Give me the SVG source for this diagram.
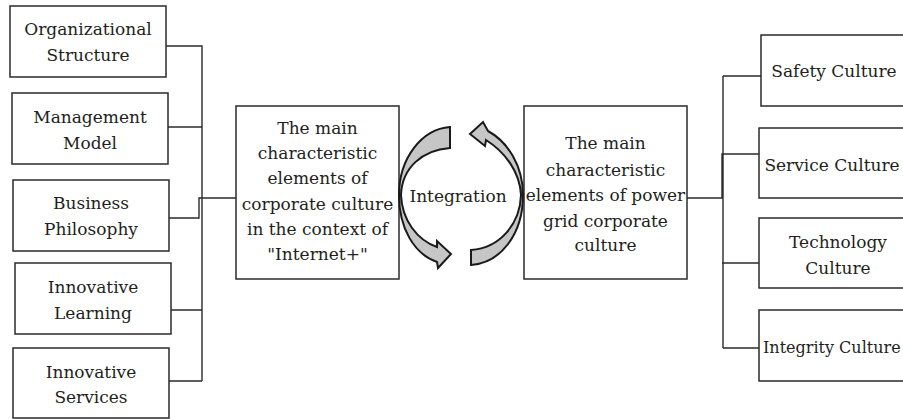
<svg xmlns="http://www.w3.org/2000/svg" width="903" height="419" viewBox="0 0 903 419">
<style>
.box{fill:#fff;stroke:#2b2b2b;stroke-width:1.5}
.t{font-family:'DejaVu Serif',serif;font-size:17px;fill:#231f20;text-anchor:middle}
.ln{fill:none;stroke:#2b2b2b;stroke-width:1.4}
.arr{fill:#c6c6c6;stroke:#1a1a1a;stroke-width:2;stroke-linejoin:miter}
</style>
<rect width="903" height="419" fill="#fff"/>
<g id="connectors">
<path class="ln" d="M166,46 H202 V381 M168,127 H202 M169,218 H199 V198 H236 M171,310 H202 M169,381 H202"/>
<path class="ln" d="M687,198 H722 V154 H761 M723,76 V348 M723,76 H761 M722,263 H761 M723,348 H761"/>
</g>
<g id="n1"><rect class="box" x="10" y="6" width="156" height="71"/><text class="t" x="88" y="35">Organizational</text><text class="t" x="88" y="61">Structure</text></g>
<g id="n2"><rect class="box" x="12" y="93" width="156" height="71"/><text class="t" x="90" y="123">Management</text><text class="t" x="90" y="149">Model</text></g>
<g id="n3"><rect class="box" x="13" y="180" width="156" height="71"/><text class="t" x="91" y="209">Business</text><text class="t" x="91" y="235">Philosophy</text></g>
<g id="n4"><rect class="box" x="15" y="263" width="156" height="71"/><text class="t" x="93" y="293">Innovative</text><text class="t" x="93" y="319">Learning</text></g>
<g id="n5"><rect class="box" x="13" y="348" width="156" height="70"/><text class="t" x="91" y="378">Innovative</text><text class="t" x="91" y="403">Services</text></g>
<g id="center-left"><rect class="box" x="236" y="106" width="163" height="173"/>
<text class="t" x="317.5" y="134">The main</text>
<text class="t" x="317.5" y="159">characteristic</text>
<text class="t" x="317.5" y="184">elements of</text>
<text class="t" x="317.5" y="210">corporate culture</text>
<text class="t" x="317.5" y="235">in the context of</text>
<text class="t" x="317.5" y="260">"Internet+"</text>
</g>
<g id="center-right"><rect class="box" x="524" y="106" width="163" height="173"/>
<text class="t" x="605.5" y="149">The main</text>
<text class="t" x="605.5" y="176">characteristic</text>
<text class="t" x="605.5" y="201">elements of power</text>
<text class="t" x="605.5" y="227">grid corporate</text>
<text class="t" x="605.5" y="251">culture</text>
</g>
<g id="integration">
<path class="arr" d="M450,127 C422,129 399,158 399,195 C399,228 414,254 437,262 L438,268 L451,254 L437,241 L437,247 C417,240 402,220 401,195 C402,168 422,150 450,148 Z"/>
<path class="arr" d="M471,265 C500,263 523,235 523,195 C523,166 508,142 488,131 L483,122 L470,134 L485,146 L486,140 C505,152 520,172 521,195 C520,224 500,248 471,250 Z"/>
<text class="t" x="458" y="202">Integration</text>
</g>
<g id="r1"><rect class="box" x="761" y="35" width="160" height="71"/><text class="t" x="834" y="77">Safety Culture</text></g>
<g id="r2"><rect class="box" x="759" y="128" width="160" height="70"/><text class="t" x="832" y="171">Service Culture</text></g>
<g id="r3"><rect class="box" x="759" y="218" width="160" height="70"/><text class="t" x="838" y="248">Technology</text><text class="t" x="838" y="274">Culture</text></g>
<g id="r4"><rect class="box" x="759" y="310" width="160" height="71"/><text class="t" style="text-anchor:start;font-size:16px" x="763" y="353">Integrity Culture</text></g>
</svg>
